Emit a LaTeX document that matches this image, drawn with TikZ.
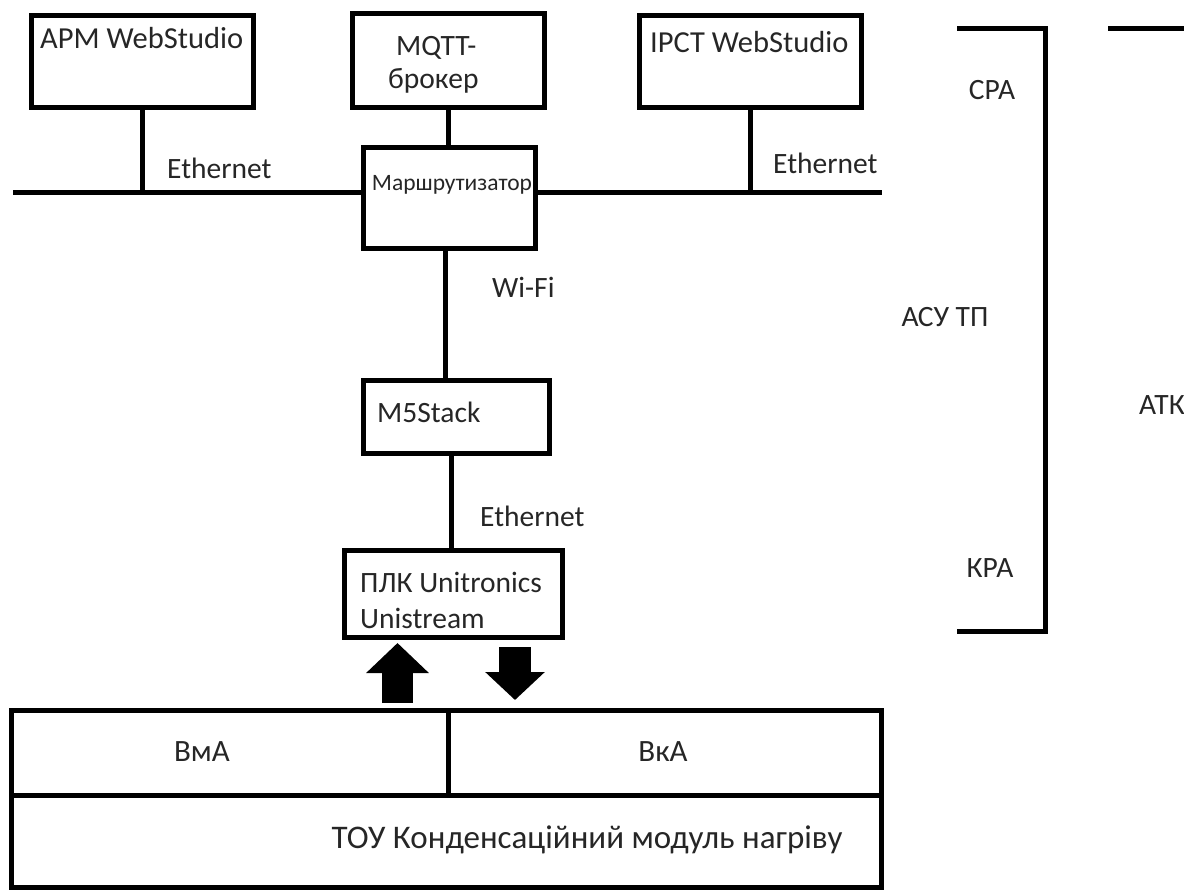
\documentclass[tikz,border=0pt]{standalone}
\usepackage{fontspec}
\setmainfont{Carlito}
\usetikzlibrary{arrows.meta}
\begin{document}
\begin{tikzpicture}[x=1pt,y=-1pt,
  box/.style={draw, line width=5pt, inner sep=0pt, rectangle},
  txt/.style={font=\fontsize{29.5}{34}\selectfont, text=black!85, inner sep=0pt},
  bigtxt/.style={font=\fontsize{33}{38}\selectfont, text=black!85, inner sep=0pt},
  small/.style={font=\fontsize{23.5}{27}\selectfont, text=black!85, inner sep=0pt},
  ln/.style={line width=5pt},
  bigup/.style={line width=31pt, -{Triangle[width=61pt,length=30pt]}},
  bigdown/.style={line width=32pt, -{Triangle[width=58pt,length=28pt]}}]
\useasboundingbox (0,0) rectangle (1184,895);

% boxes
\node[box, minimum width=222pt, minimum height=92pt] (apm) at (142,61) {};
\node[box, minimum width=192pt, minimum height=94pt] (mqtt) at (448,60) {};
\node[box, minimum width=222pt, minimum height=92pt] (ipct) at (750,61) {};
\node[box, minimum width=172pt, minimum height=101pt] (router) at (449,197.5) {};
\node[box, minimum width=186pt, minimum height=73pt] (m5) at (456,416.5) {};
\node[box, minimum width=218pt, minimum height=87pt] (plc) at (453,593.5) {};
\node[box, minimum width=437pt, minimum height=85pt] (vma) at (229.5,752.5) {};
\node[box, minimum width=433pt, minimum height=85pt] (vka) at (664.5,752.5) {};
\node[box, minimum width=870pt, minimum height=92pt] (tou) at (446,841) {};

% texts
\node[txt, anchor=base west, font=\fontsize{30.5}{34}\selectfont] (tapm) at (40,48) {АРМ WebStudio};
\node[txt, anchor=base west] (tmqtt1) at (396,55) {MQTT-};
\node[txt, anchor=base west] (tmqtt2) at (388,88) {брокер};
\node[txt, anchor=base west, font=\fontsize{30.5}{34}\selectfont] (tipct) at (650,52) {IPCT WebStudio};
\node[small] (trouter) at (452,185) {Маршрутизатор};
\node[txt, anchor=base west] (eth1) at (167,178) {Ethernet};
\node[txt, anchor=base west] (eth2) at (773,173) {Ethernet};
\node[txt, anchor=west] (wifi) at (492,287) {Wi-Fi};
\node[txt, anchor=west] (tm5) at (377,412) {M5Stack};
\node[txt, anchor=west] (eth3) at (480,516) {Ethernet};
\node[txt, anchor=west] (tplc1) at (360,582) {ПЛК Unitronics};
\node[txt, anchor=west] (tplc2) at (360,618) {Unistream};
\node[txt, font=\fontsize{31}{34}\selectfont] (tvma) at (202,752) {ВмА};
\node[txt, font=\fontsize{31}{34}\selectfont] (tvka) at (663,752) {ВкА};
\node[bigtxt] (ttou) at (587,840) {ТОУ Конденсаційний модуль нагріву};
\node[txt] (tsra) at (992,90) {СРА};
\node[txt] (tasu) at (945,317) {АСУ ТП};
\node[txt] (tkra) at (990,568) {КРА};
\node[txt] (tatk) at (1162,405) {АТК};

% bus
\coordinate (busL) at (13,192);
\coordinate (busR) at (882,192);
\draw[ln] (busL) -- (busL -| router.west);
\draw[ln] (busR -| router.east) -- (busR);
\draw[ln] (apm.south) -- (apm.south |- busL);
\draw[ln] (ipct.south) -- (ipct.south |- busR);
\draw[ln] (mqtt.south) -- (mqtt.south |- router.north);
\draw[ln] ([xshift=-4pt]router.south) -- ([xshift=-4pt]router.south |- m5.north);
\draw[ln] ([xshift=-5pt]m5.south) -- ([xshift=-5pt]m5.south |- plc.north);

% block arrows
\coordinate (upS) at (397.5,703);
\coordinate (upT) at (397.5,643);
\coordinate (dnS) at (515,647);
\coordinate (dnT) at (515,700);
\draw[bigup] (upS) -- (upT);
\draw[bigdown] (dnS) -- (dnT);

% brackets
\coordinate (b1a) at (957,28);
\coordinate (b1b) at (1045,28);
\coordinate (b1c) at (1045,631);
\coordinate (b1d) at (957,631);
\draw[ln] (b1a) -- (b1b) -- (b1c) -- (b1d);
\coordinate (b2a) at (1108,28);
\coordinate (b2b) at (1184,28);
\draw[ln] (b2a) -- (b2b);
\end{tikzpicture}
\end{document}
